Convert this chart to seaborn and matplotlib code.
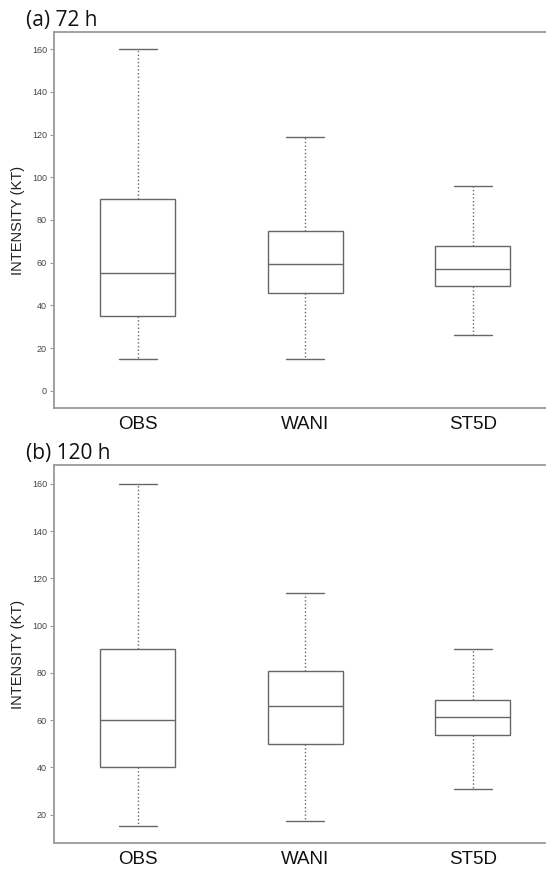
import pandas as pd
import matplotlib.pyplot as plt
import seaborn as sns

#models on the x axis
models = ['OBS', 'WANI', 'ST5D']

#five-number summaries: min, q1, median, q3, max
obs_72 = [15, 35, 55, 90, 160]
wani_72 = [15, 46, 59.5, 75, 119]
st5d_72 = [26, 49, 57, 68, 96]

obs_120 = [15, 40, 60, 90, 160]
wani_120 = [17.5, 50, 66, 81, 114]
st5d_120 = [31, 53.5, 61.5, 68.5, 90]

panels = ['(a) 72 h', '(b) 120 h']
ylims = [(-8, 168), (8, 168)]
yticks = [list(range(0, 161, 20)), list(range(20, 161, 20))]

#build a long dataframe for each panel
def make_frame(obs, wani, st5d):
    rows = []
    for name, vals in zip(models, [obs, wani, st5d]):
        for v in vals:
            rows.append({'model': name, 'intensity': v})
    return pd.DataFrame(rows)

frames = [make_frame(obs_72, wani_72, st5d_72), make_frame(obs_120, wani_120, st5d_120)]

sns.set_style("white")
plt.rcParams['font.family'] = ['Liberation Sans', 'DejaVu Sans']

fig = plt.figure(figsize=(5.46, 8.74), dpi=100)
#axes positions in figure fractions (left, bottom, width, height)
boxes = [[0.0989, 0.5332, 0.905, 0.4302], [0.0989, 0.0355, 0.905, 0.4325]]
title_y = [0.977, 0.481]

edge = '#666666'
spine = '#9a9a9a'

for i in range(2):
    ax = fig.add_axes(boxes[i])
    sns.boxplot(data=frames[i], x='model', y='intensity', order=models,
                whis=(0, 100), width=0.45, color='white', linecolor=edge,
                linewidth=1.0, showfliers=False, ax=ax,
                whiskerprops=dict(linestyle=':'))
    ax.set_xlim(-0.5, 2.45)
    ax.set_ylim(ylims[i])
    ax.set_yticks(yticks[i])
    ax.set_xlabel('')
    ax.set_ylabel('INTENSITY (KT)', fontsize=10.5, color='#222222')
    ax.yaxis.set_label_coords(-0.058, 0.5)
    ax.tick_params(axis='y', direction='out', length=3, width=0.8, color=spine,
                   labelsize=6.5, labelcolor='#444444', pad=2, left=True)
    ax.tick_params(axis='x', length=0, labelsize=13.5, labelcolor='#111111', pad=6)
    for s in ['left', 'top', 'bottom']:
        ax.spines[s].set_color(spine)
        ax.spines[s].set_linewidth(1.3)
    ax.spines['right'].set_visible(False)
    fig.text(26 / 546, title_y[i], panels[i], fontsize=15, family=['Open Sans', 'DejaVu Sans'],
             color='#111111', va='center', ha='left')

plt.savefig('out.png', dpi=100)
